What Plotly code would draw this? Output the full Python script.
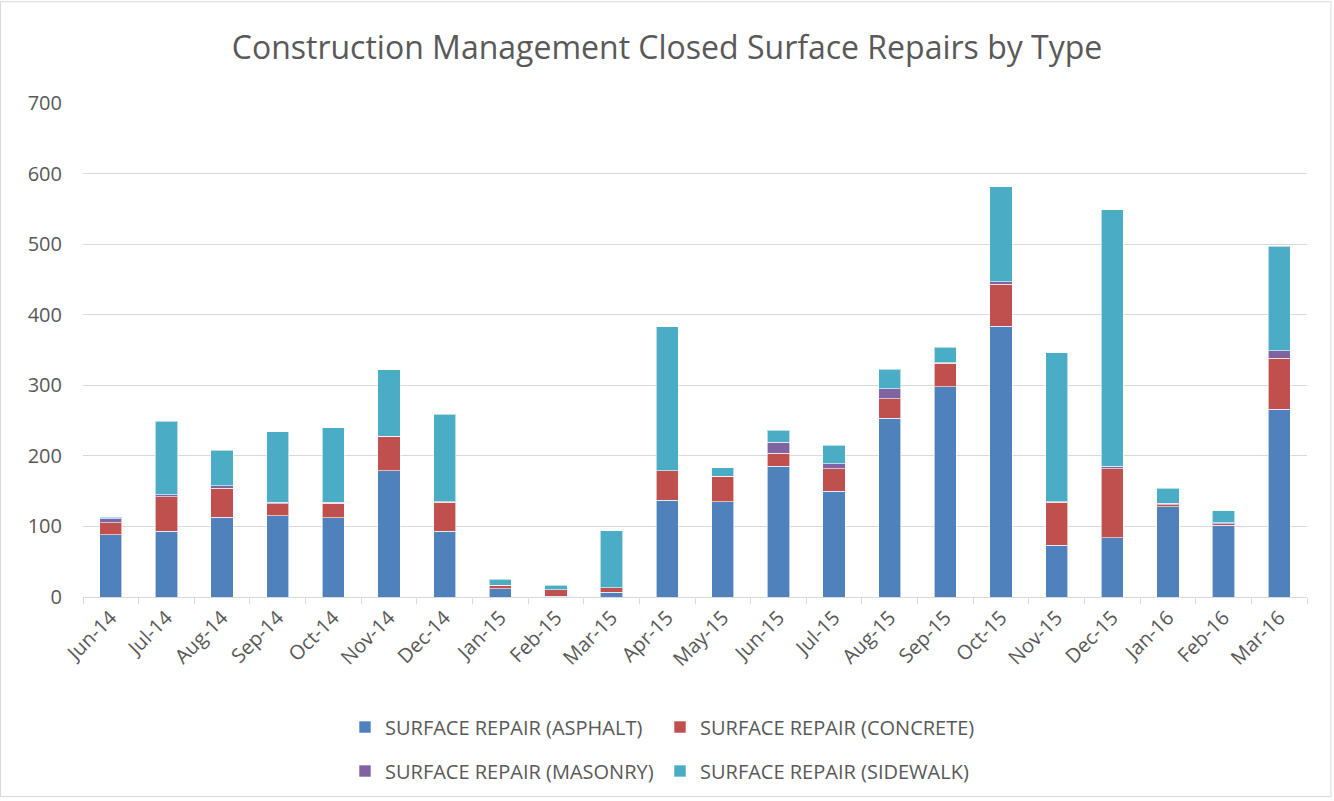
import plotly.graph_objects as go

months = ["Jun-14", "Jul-14", "Aug-14", "Sep-14", "Oct-14", "Nov-14", "Dec-14",
          "Jan-15", "Feb-15", "Mar-15", "Apr-15", "May-15", "Jun-15", "Jul-15",
          "Aug-15", "Sep-15", "Oct-15", "Nov-15", "Dec-15", "Jan-16", "Feb-16", "Mar-16"]
asphalt = [88, 93, 113, 115, 112, 179, 93, 12, 1, 7, 137, 135, 185, 150, 253, 298, 384, 73, 84, 128, 102, 266]
concrete = [17, 49, 41, 17, 21, 49, 41, 5, 9, 6, 42, 36, 19, 32, 28, 33, 59, 61, 98, 3, 2, 72]
masonry = [6, 3, 4, 2, 1, 0, 1, 0, 0, 0, 0, 0, 15, 7, 14, 1, 4, 1, 3, 2, 1, 11]
sidewalk = [2, 104, 50, 100, 106, 94, 124, 8, 7, 81, 204, 12, 17, 26, 28, 22, 134, 211, 364, 21, 17, 148]

series = [
    ("SURFACE REPAIR (ASPHALT)", asphalt, "#4F81BD", "legend"),
    ("SURFACE REPAIR (CONCRETE)", concrete, "#C0504D", "legend"),
    ("SURFACE REPAIR (MASONRY)", masonry, "#8064A2", "legend2"),
    ("SURFACE REPAIR (SIDEWALK)", sidewalk, "#4BACC6", "legend2"),
]

FONT = "Open Sans, Liberation Sans, sans-serif"
GRAY = "#595959"

fig = go.Figure()
for name, vals, color, lg in series:
    fig.add_trace(go.Bar(
        x=months, y=vals, name=name, legend=lg,
        marker=dict(color=color, line=dict(color="rgba(255,255,255,0.6)", width=1)),
    ))

# plot area in page pixels: x 83..1307, y 103..598
px0, px1, py0, py1 = 83, 1307, 103, 598
W, H = px1 - px0, py1 - py0

def fx(x):
    return (x - px0) / W

def fy(y):
    return (py1 - y) / H

legend_common = dict(orientation="h", xanchor="left", x=fx(345), yanchor="middle",
                     font=dict(size=20, color=GRAY), entrywidth=270, traceorder="normal")

fig.update_layout(
    width=1334, height=801,
    barmode="stack", bargap=0.6,
    margin=dict(l=px0, r=1334 - px1, t=py0, b=801 - py1),
    paper_bgcolor="white", plot_bgcolor="white",
    font=dict(family=FONT, color=GRAY, size=20),
    title=dict(text="Construction Management Closed Surface Repairs by Type",
               x=0.5, xanchor="center", y=1 - 48 / 801, yanchor="middle",
               font=dict(family=FONT, size=32, color=GRAY)),
    xaxis=dict(showgrid=False, showline=True, linecolor="#D9D9D9", linewidth=1,
               ticks="outside", tickson="boundaries", ticklen=6, tickcolor="#D9D9D9",
               tickangle=-45, tickfont=dict(size=20, color=GRAY)),
    yaxis=dict(range=[0, 700], dtick=100, showgrid=True, gridcolor="#D9D9D9", gridwidth=1,
               zeroline=False, showline=False, ticks="", ticklen=0,
               ticklabelstandoff=20,
               tickfont=dict(size=20, color=GRAY)),
    legend=dict(y=fy(727), **legend_common),
    legend2=dict(y=fy(771), **legend_common),
    shapes=[dict(type="rect", xref="paper", yref="paper",
                 x0=fx(0.5), x1=fx(1331), y0=fy(798), y1=fy(1.5),
                 line=dict(color="#D9D9D9", width=1), fillcolor="rgba(0,0,0,0)", layer="below")],
)

fig.write_html("out.html", config={"displayModeBar": False},
               post_script="document.body.style.margin='0';")
